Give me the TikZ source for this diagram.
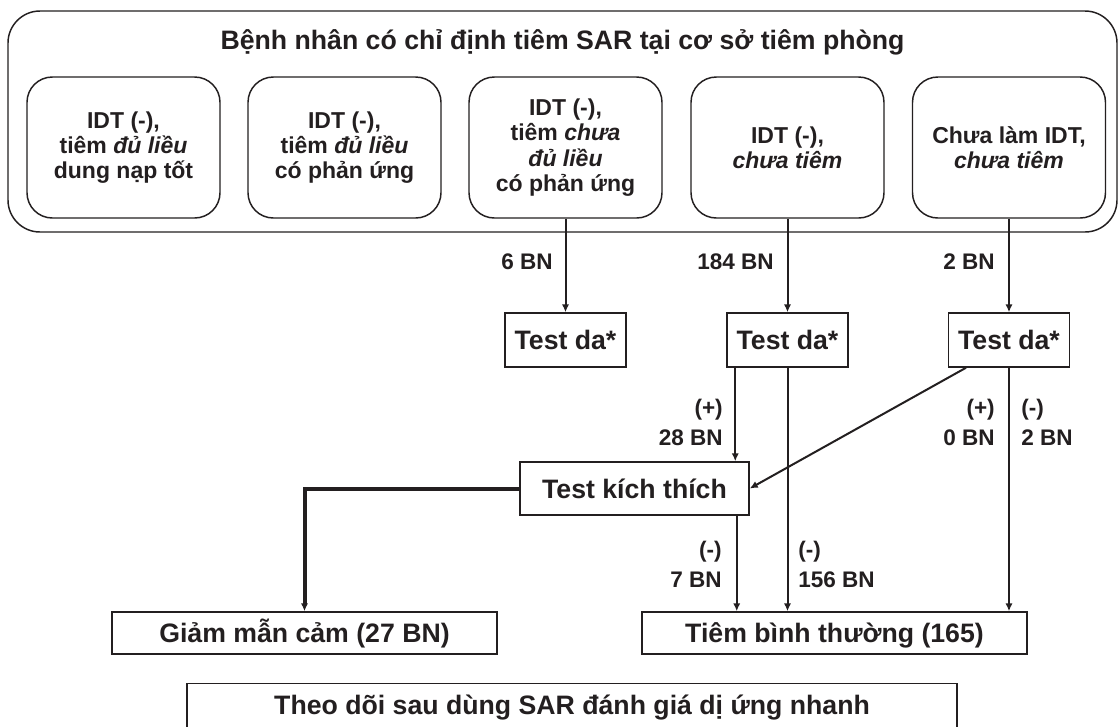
\documentclass[tikz,border=0pt]{standalone}
\usepackage{fontspec}
\setmainfont{Liberation Sans}
\usetikzlibrary{arrows.meta,calc}
\definecolor{ink}{RGB}{35,31,32}
\begin{document}
\begin{tikzpicture}[x=0.75pt,y=-0.75pt,
  every node/.style={text=ink},
  titletext/.style={inner sep=0pt, text height=14.3pt, text depth=0pt,
    font=\bfseries\fontsize{20}{24}\selectfont},
  rbox/.style={draw=ink, line width=1.1pt, rounded corners=19pt,
    minimum width=144.75pt, minimum height=105.75pt, align=center,
    inner sep=0pt, font=\bfseries\fontsize{17.25}{18.9}\selectfont},
  sbox/.style={draw=ink, line width=1.1pt, inner sep=0pt,
    text height=14.3pt, text depth=0pt,
    font=\bfseries\fontsize{20}{24}\selectfont},
  lbl/.style={inner sep=0pt, font=\bfseries\fontsize{16.9}{22.5}\selectfont},
  arr/.style={draw=ink, line width=1.5pt, -{Latex[length=6pt,width=5.5pt]}},
  thickarr/.style={arr, line width=3pt}
]
\fill[white] (0,0) rectangle (1118,726);
\useasboundingbox (0,0) rectangle (1118,726);

% outer frame and its heading
\node[draw=ink, line width=1.1pt, rounded corners=24pt, inner sep=0pt,
  minimum width=831.75pt, minimum height=165.75pt] (outer) at (562.5,121.5) {};
\node[titletext] (title) at (562.5,40) {Bệnh nhân có chỉ định tiêm SAR tại cơ sở tiêm phòng};

% patient groups
\node[rbox] (b1) at (123.5,147.5) {IDT (-),\\tiêm \textit{đủ liều}\\dung nạp tốt};
\node[rbox] (b2) at (344.5,147.5) {IDT (-),\\tiêm \textit{đủ liều}\\có phản ứng};
\node[rbox] (b3) at (565.5,147.5) {IDT (-),\\tiêm \textit{chưa}\\\textit{đủ liều}\\có phản ứng};
\node[rbox] (b4) at (787.5,147.5) {IDT (-),\\\textit{chưa tiêm}};
\node[rbox] (b5) at (1009,147.5) {Chưa làm IDT,\\\textit{chưa tiêm}};

% skin tests
\node[sbox, minimum width=90.75pt, minimum height=40.5pt] (t1) at (565.5,340) {Test da*};
\node[sbox, minimum width=90.75pt, minimum height=40.5pt] (t2) at (787.5,340) {Test da*};
\node[sbox, minimum width=90.75pt, minimum height=40.5pt] (t3) at (1009,340) {Test da*};

% provocation test and outcomes
\node[sbox, minimum width=171.75pt, minimum height=39.75pt] (ktt) at (634.5,488.5) {Test kích thích};
\node[sbox, minimum width=288.75pt, minimum height=31.5pt] (gmc) at (304.5,633) {Giảm mẫn cảm (27 BN)};
\node[sbox, minimum width=288.75pt, minimum height=31.5pt] (tbt) at (834.5,633) {Tiêm bình thường (165)};

% follow-up box, running past the lower edge
\node[sbox, anchor=north, minimum width=577.5pt, minimum height=60pt] (follow) at (572,683) {};
\node[titletext] (followtxt) at (572,705) {Theo dõi sau dùng SAR đánh giá dị ứng nhanh};

% connectors
\draw[arr] (b3.south) -- (t1.north);
\draw[arr] (b4.south) -- (t2.north);
\draw[arr] (b5.south) -- (t3.north);

\coordinate (t2a) at ([xshift=6.75pt]t2.south west);
\draw[arr] (t2a) -- (t2a |- ktt.north);
\draw[arr] (t2.south) -- (t2.south |- tbt.north);

\coordinate (t3a) at ([xshift=-32.25pt]t3.south);
\draw[arr] (t3a) -- (ktt.east);
\draw[arr] (t3.south) -- (t3.south |- tbt.north);

\coordinate (ka) at ([xshift=-9.75pt]ktt.south east);
\draw[arr] (ka) -- (ka |- tbt.north);
\draw[thickarr] (ktt.west) -| (gmc.north);

% counts
\node[lbl, anchor=east] (n6) at (553,262) {6 BN};
\node[lbl, anchor=east] (n184) at (774,262) {184 BN};
\node[lbl, anchor=east] (n2) at (995,262) {2 BN};
\node[lbl, anchor=east, align=right] (np28) at (723,422) {(+)\\28 BN};
\node[lbl, anchor=east, align=right] (np0) at (995,422) {(+)\\0 BN};
\node[lbl, anchor=west, align=left] (nm2) at (1021,422) {(-)\\2 BN};
\node[lbl, anchor=east, align=right] (nm7) at (722,564) {(-)\\7 BN};
\node[lbl, anchor=west, align=left] (nm156) at (798,564) {(-)\\156 BN};
\end{tikzpicture}
\end{document}
